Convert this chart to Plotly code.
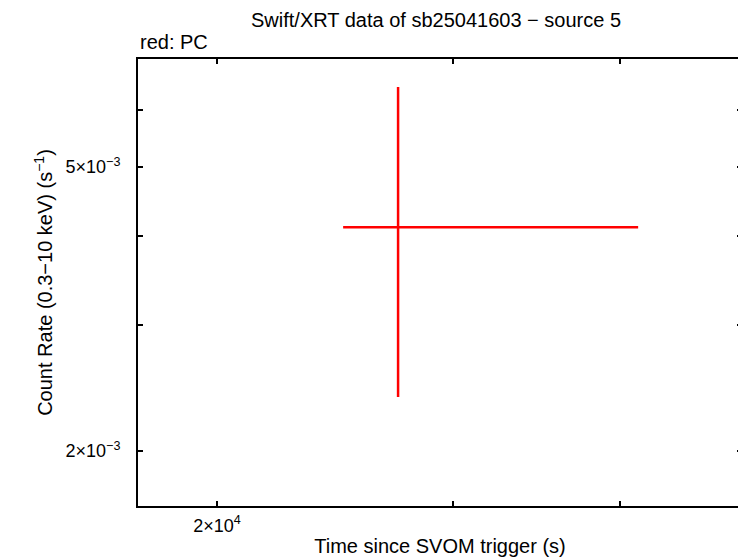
import plotly.graph_objects as go

# Data
time_s = [27300]
time_err_minus = [27300 - 24840]
time_err_plus = [41240 - 27300]
rate = [4.118e-3]
rate_err_minus = [4.118e-3 - 2.380e-3]
rate_err_plus = [6.474e-3 - 4.118e-3]

x_tickvals = [2e4]
x_ticktext = ["2×10<sup>4</sup>"]
x_minorvals = [3e4, 4e4]
y_tickvals = [2e-3, 5e-3]
y_ticktext = ["2×10<sup>−3</sup>", "5×10<sup>−3</sup>"]
y_minorvals = [3e-3, 4e-3, 6e-3]

FAM = "Liberation Sans, Arial, sans-serif"

fig = go.Figure()
fig.add_trace(go.Scatter(
    x=time_s, y=rate, mode="markers",
    marker=dict(size=1, color="red", opacity=0),
    error_x=dict(type="data", symmetric=False, array=time_err_plus,
                 arrayminus=time_err_minus, color="red", thickness=2.5, width=0),
    error_y=dict(type="data", symmetric=False, array=rate_err_plus,
                 arrayminus=rate_err_minus, color="red", thickness=2.5, width=0),
    showlegend=False,
))

tickfont = dict(family=FAM, size=18, color="black")
axis_common = dict(type="log", showgrid=False, zeroline=False, showline=True,
                   linecolor="black", linewidth=2, mirror="ticks", ticks="inside",
                   ticklen=5, tickwidth=2, tickcolor="black", tickfont=tickfont,
                   automargin=False)
minor_common = dict(ticks="inside", ticklen=5, tickwidth=2, tickcolor="black", showgrid=False)

fig.update_layout(
    width=738, height=550,
    margin=dict(l=130, r=4, t=51, b=52),
    paper_bgcolor="white", plot_bgcolor="white",
    font=dict(family=FAM, size=20, color="black"),
    title=dict(text="Swift/XRT data of sb25041603 − source 5", x=0.58, xanchor="center",
               xref="container", yref="container",
               y=1 - 12 / 550, yanchor="middle", font=dict(family=FAM, size=20)),
    xaxis=dict(**axis_common, range=[4.24207, 4.69282], tickvals=x_tickvals, ticktext=x_ticktext,
               minor=dict(**minor_common, tickvals=x_minorvals),
               ticklabelstandoff=2,
               title=dict(text="Time since SVOM trigger (s)", standoff=4,
                          font=dict(family=FAM, size=20))),
    yaxis=dict(**axis_common, range=[-2.77602, -2.14971], tickvals=y_tickvals, ticktext=y_ticktext,
               minor=dict(**minor_common, tickvals=y_minorvals),
               ticklabelstandoff=12,
               title=dict(text="Count Rate (0.3−10 keV) (s<sup>−1</sup>)", standoff=7,
                          font=dict(family=FAM, size=20))),
    annotations=[dict(text="red: PC", xref="paper", yref="paper", x=0, y=1, xanchor="left",
                      yanchor="bottom", yshift=4, showarrow=False,
                      font=dict(family=FAM, size=20))],
)

fig.write_html("out.html")
